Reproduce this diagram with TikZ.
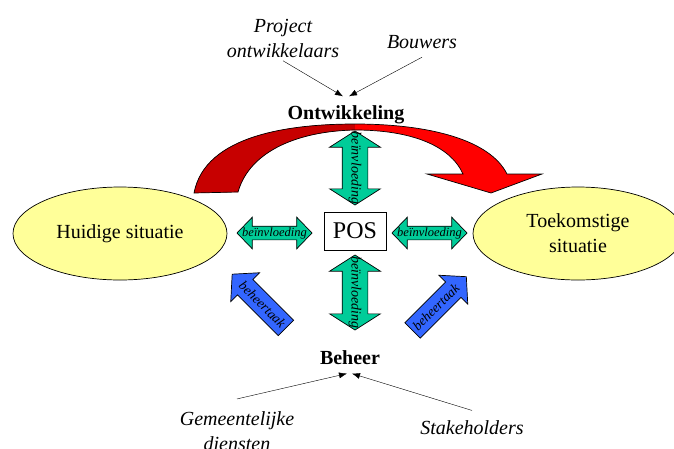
\documentclass[tikz,border=0pt]{standalone}
\usepackage{fontspec}
\setmainfont{Liberation Serif}
\usepackage{tikz}
\usetikzlibrary{shapes.geometric,shapes.arrows}
\usetikzlibrary{arrows.meta,calc,positioning}
\definecolor{darkred}{rgb}{0.78,0,0}
\definecolor{lightyellow}{rgb}{1,1,0.6}
\definecolor{seagreen}{rgb}{0,0.8,0.6}
\definecolor{taakblue}{rgb}{0.2,0.4,1}
\tikzset{
  situatie/.style={ellipse, draw, line width=0.7pt, fill=lightyellow, inner sep=0pt,
    minimum height=93pt, align=center, font=\fontsize{20}{25}\selectfont},
  invloed/.style={double arrow, draw, line width=0.7pt, fill=seagreen, inner xsep=0pt,
    minimum width=0pt},
  invloedtxt/.style={inner sep=0pt, font=\itshape\fontsize{12.5}{12.5}\selectfont},
  taak/.style={single arrow, draw, line width=0.7pt, fill=taakblue, inner xsep=0pt,
    inner ysep=10.5pt, minimum width=0pt, minimum height=76pt,
    single arrow head extend=9.5pt, single arrow tip angle=96},
  actor/.style={align=center, font=\itshape\fontsize{20}{25}\selectfont},
  fase/.style={font=\bfseries\fontsize{20}{25}\selectfont},
}

\begin{document}
\begin{tikzpicture}[x=1pt,y=-1pt]
      \useasboundingbox (0,0) rectangle (674,448);
      % Red arrow from the present to the future situation
      \draw[line width=0.7pt, fill=red, path picture={\fill[darkred] (0,0) rectangle (355,448);}]
        (194,193) .. controls (205,135) and (290,124) .. (355,124)
        .. controls (430,124) and (490,140) .. (507,174) -- (542,174) -- (491,193)
        -- (427,174) -- (463,174) .. controls (450,145) and (410,130) .. (355,130)
        .. controls (300,131) and (250,150) .. (238,192) -- cycle;
      % Situations
      \node[situatie, minimum width=214pt] (huidig) at (120,233.5) {Huidige situatie};
      \node[situatie, minimum width=210pt] (toekomst) at (578,233.5) {Toekomstige\\situatie};
      % POS in the middle
      \node[draw, line width=0.7pt, fill=white, minimum width=62pt, minimum height=38pt,
        font=\fontsize{24}{24}\selectfont] (pos) at (355,231) {POS};
      % Influence arrows round POS
      \node[invloed, rotate=-90, minimum height=74pt, inner ysep=12.5pt,
        double arrow head extend=12.5pt, double arrow tip angle=115] (inv-boven) at (355,168) {};
      \node[invloed, rotate=-90, minimum height=75pt, inner ysep=12.5pt,
        double arrow head extend=12.5pt, double arrow tip angle=115] (inv-onder) at (355,292.5) {};
      \node[invloed, minimum height=75pt, inner ysep=6.5pt,
        double arrow head extend=9pt, double arrow tip angle=92] (inv-links) at (274.5,233) {};
      \node[invloed, minimum height=75pt, inner ysep=6.5pt,
        double arrow head extend=9pt, double arrow tip angle=92] (inv-rechts) at (429.5,233) {};
      \node[invloedtxt, rotate=-90, font=\itshape\fontsize{14}{14}\selectfont] at (inv-boven) {beïnvloeding};
      \node[invloedtxt, rotate=-90, font=\itshape\fontsize{14}{14}\selectfont] at (inv-onder) {beïnvloeding};
      \node[invloedtxt] at (inv-links) {beïnvloeding};
      \node[invloedtxt] at (inv-rechts) {beïnvloeding};
      % Management tasks
      \node[taak, shape border rotate=180, rotate=-45] (taak-links) at (262.5,304.5) {};
      \node[taak, rotate=45] (taak-rechts) at (436,307) {};
      \node[invloedtxt, rotate=-45, font=\itshape\fontsize{13.5}{13.5}\selectfont] at (taak-links) {beheertaak};
      \node[invloedtxt, rotate=45, font=\itshape\fontsize{13.5}{13.5}\selectfont] at (taak-rechts) {beheertaak};
      % Development and its actors
      \node[fase] (ontwikkeling) at (346,115) {Ontwikkeling};
      \node[actor] (ontwikkelaars) at (283,38) {Project\\ontwikkelaars};
      \node[actor] (bouwers) at (422,42) {Bouwers};
      \draw[-{Latex[length=8pt,width=6pt]}, thin] (ontwikkelaars.south) -- ([xshift=-3pt,yshift=6pt]ontwikkeling.north);
      \draw[-{Latex[length=8pt,width=6pt]}, thin] ([yshift=-5pt]bouwers.south) -- ([xshift=3pt,yshift=6pt]ontwikkeling.north);
      % Management and its actors
      \node[fase] (beheer) at (350,358) {Beheer};
      \node[actor] (diensten) at (237,431) {Gemeentelijke\\diensten};
      \node[actor] (stakeholders) at (472,428) {Stakeholders};
      \draw[-{Latex[length=8pt,width=6pt]}, thin] ([yshift=9pt]diensten.north) -- ([xshift=-3pt,yshift=-5pt]beheer.south);
      \draw[-{Latex[length=8pt,width=6pt]}, thin] ([yshift=7pt]stakeholders.north) -- ([xshift=2pt,yshift=-5pt]beheer.south);
\end{tikzpicture}
\end{document}
